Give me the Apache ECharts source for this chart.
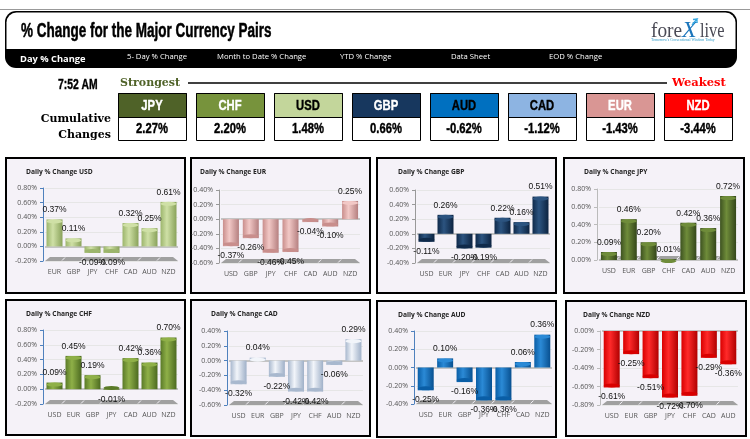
<!DOCTYPE html>
<html>
<head>
<meta charset="utf-8">
<title>% Change for the Major Currency Pairs</title>
<script src="https://cdn.jsdelivr.net/npm/echarts@6/dist/echarts.min.js"></script>
<style>
html, body { margin: 0; padding: 0; background: #fff; }
#main { width: 750px; height: 439px; }
</style>
</head>
<body>
<div id="main"></div>
<script>
// ranking strip
var rankCurrencies = ['JPY', 'CHF', 'USD', 'GBP', 'AUD', 'CAD', 'EUR', 'NZD'];
var rankChanges = ['2.27%', '2.20%', '1.48%', '0.66%', '-0.62%', '-1.12%', '-1.43%', '-3.44%'];
var tabLabels = ['5- Day % Change', 'Month to Date % Change', 'YTD % Change', 'Data Sheet', 'EOD % Change'];

// daily % change per panel
var usdCats = ['EUR', 'GBP', 'JPY', 'CHF', 'CAD', 'AUD', 'NZD'];
var usdVals = [0.37, 0.11, -0.09, -0.09, 0.32, 0.25, 0.61];
var eurCats = ['USD', 'GBP', 'JPY', 'CHF', 'CAD', 'AUD', 'NZD'];
var eurVals = [-0.37, -0.26, -0.46, -0.45, -0.04, -0.10, 0.25];
var gbpCats = ['USD', 'EUR', 'JPY', 'CHF', 'CAD', 'AUD', 'NZD'];
var gbpVals = [-0.11, 0.26, -0.20, -0.19, 0.22, 0.16, 0.51];
var jpyCats = ['USD', 'EUR', 'GBP', 'CHF', 'CAD', 'AUD', 'NZD'];
var jpyVals = [0.09, 0.46, 0.20, 0.01, 0.42, 0.36, 0.72];
var chfCats = ['USD', 'EUR', 'GBP', 'JPY', 'CAD', 'AUD', 'NZD'];
var chfVals = [0.09, 0.45, 0.19, -0.01, 0.42, 0.36, 0.70];
var cadCats = ['USD', 'EUR', 'GBP', 'JPY', 'CHF', 'AUD', 'NZD'];
var cadVals = [-0.32, 0.04, -0.22, -0.42, -0.42, -0.06, 0.29];
var audCats = ['USD', 'EUR', 'GBP', 'JPY', 'CHF', 'CAD', 'NZD'];
var audVals = [-0.25, 0.10, -0.16, -0.36, -0.36, 0.06, 0.36];
var nzdCats = ['USD', 'EUR', 'GBP', 'JPY', 'CHF', 'CAD', 'AUD'];
var nzdVals = [-0.61, -0.25, -0.51, -0.72, -0.70, -0.29, -0.36];

// value axis ranges, same order as the panels
var panelNames = ['USD', 'EUR', 'GBP', 'JPY', 'CHF', 'CAD', 'AUD', 'NZD'];
var panelCats = [usdCats, eurCats, gbpCats, jpyCats, chfCats, cadCats, audCats, nzdCats];
var panelVals = [usdVals, eurVals, gbpVals, jpyVals, chfVals, cadVals, audVals, nzdVals];
var axisMins = [-0.2, -0.6, -0.4, 0, -0.2, -0.6, -0.4, -0.8];
var axisMaxs = [0.8, 0.4, 0.6, 0.8, 0.8, 0.4, 0.4, 0];

// styling and layout
var rankColors = ['#4f6228', '#77933c', '#c3d69b', '#17375e', '#0070c0', '#8db4e2', '#d99694', '#ff0000'];
var rankTextColors = ['#fff', '#fff', '#000', '#fff', '#000', '#000', '#fff', '#fff'];
var rankX = [118, 196, 274, 352, 430, 508, 586, 664];
var tabX = [127, 217, 340, 451, 549];
var barShades = [
  ['#9cb56c', '#cfe0a6', '#89a25a'],
  ['#c98e8c', '#f2c8c6', '#b58080'],
  ['#0f2a4a', '#2c5480', '#0c2340'],
  ['#3d5220', '#6f8c3a', '#34461a'],
  ['#5a7a28', '#8fb048', '#4c6a20'],
  ['#a8b8ce', '#f2f5fa', '#9fb0c8'],
  ['#0a5ea6', '#2b8ad6', '#085090'],
  ['#d80000', '#ff2a2a', '#b00000']
];
var axisColors = ['#4f81bd', '#999', '#999', '#bbb', '#4f81bd', '#4f81bd', '#4f81bd', '#bbb'];
var titleX = [21, 195, 393, 579, 21, 206, 393, 578];
// box x0,y0,x1,y1 then plot x0,y0,x1,y1
var panelBoxes = [
  [6, 158, 185, 293, 43, 188, 178, 261],
  [191, 158, 370, 293, 219, 190, 360, 263],
  [377, 158, 556, 293, 415, 190, 550, 263],
  [564, 158, 744, 293, 597, 189, 738, 260],
  [6, 300, 185, 435, 43, 330, 178, 404],
  [191, 300, 370, 436, 227, 331, 363, 405],
  [377, 301, 556, 437, 414, 331, 552, 404],
  [566, 301, 746, 436, 600, 331, 738, 405]
];

var SANS = '"Open Sans", "Liberation Sans", sans-serif';
var ARIAL = '"Liberation Sans", sans-serif';
var SERIF = '"DejaVu Serif", serif';

// squeeze scales the glyphs horizontally, heavy thickens them, for the Impact-like headings
function txt(text, x, y, font, color, align, squeeze, heavy) {
  return {
    type: 'text', z: 20, x: x, y: y, scaleX: squeeze || 1,
    style: {
      text: text, font: font, fill: color, textAlign: align || 'left', textVerticalAlign: 'middle',
      stroke: heavy ? color : null, lineWidth: heavy || 0
    }
  };
}

var graphics = [
  { type: 'line', shape: { x1: 0, y1: 9.5, x2: 750, y2: 9.5 }, style: { stroke: '#999', lineWidth: 1 } },
  { type: 'rect', shape: { x: 5, y: 11, width: 732, height: 57, r: 11 }, style: { fill: '#000' } },
  { type: 'rect', shape: { x: 6.5, y: 12.5, width: 729, height: 36.5, r: [10, 10, 0, 0] }, style: { fill: '#fff' } },
  txt('% Change for the Major Currency Pairs', 21, 31, 'bold 20px ' + ARIAL, '#000', 'left', 0.675, 0.5),
  txt('Day % Change', 20, 59, 'bold 9.3px ' + SANS, '#fff'),
  txt('fore', 651, 31, '21px "Liberation Serif", serif', '#4a4a55', 'left', 0.92),
  txt('X', 682, 31, 'italic 24px "Liberation Serif", serif', '#1b75bb'),
  { type: 'polyline', z: 21, shape: { points: [[692, 25], [697, 19], [693, 19.5], [697, 19], [697, 23]] }, style: { stroke: '#35a7e0', lineWidth: 1.3, fill: null } },
  txt('live', 700, 31, '21px "Liberation Serif", serif', '#4a4a55', 'left', 0.78),
  txt("Tomorrow's Conventional Wisdom Today", 651, 40, '3.8px "Liberation Serif", serif', '#2f9bc8'),
  txt('7:52 AM', 58, 85, 'bold 15px ' + ARIAL, '#000', 'left', 0.69, 0.4),
  txt('Strongest', 120, 83, 'bold 11px ' + SERIF, '#4f6228'),
  { type: 'line', shape: { x1: 188, y1: 83, x2: 667, y2: 83 }, style: { stroke: '#000', lineWidth: 1.5 } },
  txt('Weakest', 672, 83, 'bold 11.5px ' + SERIF, '#ff0000'),
  txt('Cumulative', 111, 119, 'bold 11px ' + SERIF, '#000', 'right'),
  txt('Changes', 111, 135, 'bold 11px ' + SERIF, '#000', 'right')
];

tabLabels.forEach(function (label, i) {
  graphics.push(txt(label, tabX[i], 57, '7.7px ' + SANS, '#fff'));
});

rankCurrencies.forEach(function (name, i) {
  var x = rankX[i];
  graphics.push({ type: 'rect', shape: { x: x + 0.5, y: 93.5, width: 68, height: 47 }, style: { fill: '#fff', stroke: '#000', lineWidth: 1 } });
  graphics.push({ type: 'rect', shape: { x: x + 0.5, y: 93.5, width: 68, height: 24 }, style: { fill: rankColors[i], stroke: '#000', lineWidth: 1 } });
  graphics.push(txt(name, x + 34, 105.5, 'bold 15px ' + ARIAL, rankTextColors[i], 'center', 0.75, 0.4));
  graphics.push(txt(rankChanges[i], x + 34, 129, 'bold 15px ' + ARIAL, '#000', 'center', 0.75, 0.4));
});

var titles = [], grids = [], xAxes = [], yAxes = [], seriesList = [];

panelNames.forEach(function (name, i) {
  var b = panelBoxes[i];
  var shade = barShades[i];
  graphics.unshift({
    type: 'rect', z: -1,
    shape: { x: b[0], y: b[1], width: b[2] - b[0], height: b[3] - b[1] },
    style: { fill: '#f5f2f8', stroke: '#000', lineWidth: 2 }
  });
  // floor of the 3D plot, broken by small white gaps
  graphics.push({
    type: 'polygon', z: -1,
    shape: { points: [[b[4] + 2, b[7]], [b[6], b[7]], [b[6] - 5, b[7] - 4], [b[4] + 7, b[7] - 4]] },
    style: { fill: '#a0a0a0' }
  });
  for (var k = 1; k < 7; k++) {
    var gapX = b[4] + 2 + (b[6] - b[4] - 2) * k / 7;
    graphics.push({
      type: 'line', z: -1,
      shape: { x1: gapX - 2, y1: b[7] - 0.5, x2: gapX + 1, y2: b[7] - 3.5 },
      style: { stroke: '#f5f2f8', lineWidth: 1 }
    });
  }
  titles.push({
    text: 'Daily % Change ' + name,
    left: titleX[i], top: b[1] + 6,
    textStyle: { fontFamily: SANS, fontSize: 6.7, fontWeight: 'bold', color: '#222' }
  });
  grids.push({ left: b[4] + 2, top: b[5], width: b[6] - b[4] - 2, height: b[7] - b[5] });
  xAxes.push({
    type: 'category', gridIndex: i, data: panelCats[i], position: 'bottom',
    axisLine: { show: false }, axisTick: { show: false },
    axisLabel: { margin: 7, fontFamily: SANS, fontSize: 7, color: '#555', interval: 0 }
  });
  yAxes.push({
    type: 'value', gridIndex: i, min: axisMins[i], max: axisMaxs[i], interval: 0.2, offset: 2,
    axisLine: { show: true, lineStyle: { color: axisColors[i], width: 1 } },
    axisTick: { show: true, length: 3, lineStyle: { color: axisColors[i] } },
    splitLine: { lineStyle: { color: '#e6e6e6', width: 1 } },
    axisLabel: {
      margin: 6, fontFamily: SANS, fontSize: 7, color: '#555',
      formatter: function (v) { return v.toFixed(2) + '%'; }
    }
  });
  seriesList.push({
    type: 'bar', xAxisIndex: i, yAxisIndex: i, barWidth: 16, z: 3,
    itemStyle: {
      color: new echarts.graphic.LinearGradient(0, 0, 1, 0, [
        { offset: 0, color: shade[0] }, { offset: 0.4, color: shade[1] }, { offset: 1, color: shade[2] }
      ])
    },
    data: panelVals[i].map(function (v) {
      return { value: v, label: { position: v < 0 ? 'bottom' : 'top' } };
    }),
    label: {
      show: true, distance: 5, fontFamily: ARIAL, fontSize: 8.5, color: '#111',
      formatter: function (p) { return p.value.toFixed(2) + '%'; }
    },
    markLine: {
      silent: true, symbol: 'none', label: { show: false }, z: 1,
      lineStyle: { type: 'solid', color: '#c4c4c4', width: 2 },
      data: [{ yAxis: 0 }]
    }
  });
  // rounded end of each cylinder
  seriesList.push({
    type: 'pictorialBar', xAxisIndex: i, yAxisIndex: i, symbol: 'circle',
    symbolSize: [16, 4], symbolPosition: 'end', z: 4,
    data: panelVals[i].map(function (v) {
      return { value: v, itemStyle: { color: v < 0 ? shade[0] : shade[1] } };
    })
  });
});

var myChart = echarts.init(document.getElementById('main'));
myChart.setOption({
  animation: false,
  backgroundColor: '#fff',
  title: titles,
  grid: grids,
  xAxis: xAxes,
  yAxis: yAxes,
  series: seriesList,
  graphic: graphics
});
</script>
</body>
</html>
